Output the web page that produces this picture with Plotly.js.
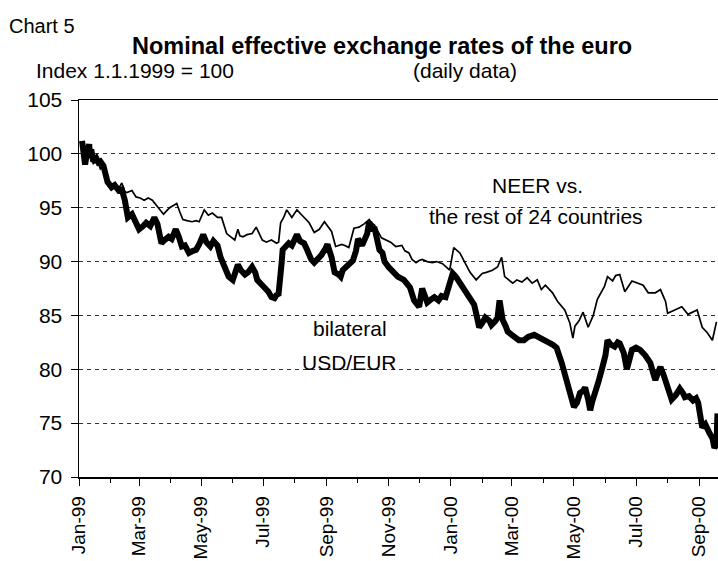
<!DOCTYPE html>
<html>
<head>
<meta charset="utf-8">
<script src="https://cdn.plot.ly/plotly-3.0.1.min.js"></script>
<style>
  html, body { margin: 0; padding: 0; background: #ffffff; }
  #chart { width: 718px; height: 561px; }
</style>
</head>
<body>
<div id="chart"></div>
<script>
// ---- Data (index 1.1.1999 = 100, daily data) ----
var usdDates = [
  "1999-01-04","1999-01-05","1999-01-06","1999-01-07","1999-01-08","1999-01-11","1999-01-12","1999-01-13","1999-01-15","1999-01-18",
  "1999-01-20","1999-01-22","1999-01-25","1999-01-27","1999-01-29","1999-02-02","1999-02-05","1999-02-09","1999-02-12","1999-02-15",
  "1999-02-18","1999-02-22","1999-02-26","1999-03-01","1999-03-05","1999-03-08","1999-03-12","1999-03-16","1999-03-19","1999-03-23",
  "1999-03-26","1999-03-30","1999-04-02","1999-04-06","1999-04-09","1999-04-12","1999-04-15","1999-04-19","1999-04-23","1999-04-26",
  "1999-04-29","1999-05-03","1999-05-06","1999-05-10","1999-05-13","1999-05-17","1999-05-20","1999-05-25","1999-05-28","1999-06-01",
  "1999-06-03","1999-06-06","1999-06-09","1999-06-13","1999-06-16","1999-06-20","1999-06-23","1999-06-25","1999-06-29","1999-07-02",
  "1999-07-06","1999-07-09","1999-07-12","1999-07-14","1999-07-16","1999-07-19","1999-07-20","1999-07-23","1999-07-26","1999-07-29",
  "1999-08-03","1999-08-06","1999-08-10","1999-08-13","1999-08-17","1999-08-20","1999-08-24","1999-08-27","1999-08-31","1999-09-02",
  "1999-09-06","1999-09-09","1999-09-13","1999-09-15","1999-09-17","1999-09-21","1999-09-24","1999-09-27","1999-09-30","1999-10-02",
  "1999-10-06","1999-10-11","1999-10-13","1999-10-15","1999-10-18","1999-10-20","1999-10-23","1999-10-26","1999-10-28","1999-11-01",
  "1999-11-06","1999-11-10","1999-11-16","1999-11-19","1999-11-22","1999-11-26","1999-12-01","1999-12-04","1999-12-07","1999-12-09",
  "1999-12-13","1999-12-16","1999-12-20","1999-12-23","1999-12-27","1999-12-31","2000-01-03","2000-01-06","2000-01-10","2000-01-13",
  "2000-01-15","2000-01-18","2000-01-21","2000-01-24","2000-01-26","2000-01-29","2000-02-01","2000-02-04","2000-02-08","2000-02-10",
  "2000-02-14","2000-02-16","2000-02-18","2000-02-21","2000-02-24","2000-02-26","2000-03-01","2000-03-04","2000-03-08","2000-03-13",
  "2000-03-17","2000-03-23","2000-03-28","2000-04-02","2000-04-06","2000-04-10","2000-04-14","2000-04-19","2000-04-22","2000-04-25",
  "2000-04-28","2000-05-01","2000-05-04","2000-05-07","2000-05-10","2000-05-12","2000-05-15","2000-05-17","2000-05-19","2000-05-22",
  "2000-05-25","2000-05-29","2000-06-01","2000-06-03","2000-06-06","2000-06-10","2000-06-13","2000-06-15","2000-06-19","2000-06-22",
  "2000-06-25","2000-06-27","2000-07-01","2000-07-05","2000-07-10","2000-07-15","2000-07-18","2000-07-20","2000-07-23","2000-07-25",
  "2000-07-28","2000-07-30","2000-08-02","2000-08-05","2000-08-09","2000-08-13","2000-08-16","2000-08-18","2000-08-22","2000-08-26",
  "2000-08-29","2000-08-31","2000-09-04","2000-09-07","2000-09-11","2000-09-14","2000-09-16","2000-09-18","2000-09-19"
];
var usdIndex = [
  101.2, 99.9, 100.5, 99.0, 99.6, 100.9, 99.6, 100.4, 99.3, 99.6,
  99.2, 99.3, 98.9, 97.8, 97.4, 96.9, 97.1, 96.6, 96.7, 95.7,
  94.1, 94.4, 93.6, 93.0, 93.3, 93.6, 93.3, 94.1, 93.5, 91.7,
  92.0, 92.3, 92.1, 93.0, 92.3, 91.4, 91.5, 90.8, 91.0, 91.1,
  91.6, 92.5, 91.8, 91.4, 91.9, 91.5, 90.4, 89.3, 88.6, 88.3,
  88.8, 89.7, 89.2, 88.8, 89.0, 89.5, 89.0, 88.3, 87.9, 87.6,
  87.2, 86.7, 86.6, 86.9, 87.0, 89.9, 91.1, 91.4, 91.7, 91.5,
  92.5, 91.9, 91.7, 91.1, 90.2, 89.9, 90.2, 90.6, 91.2, 91.6,
  90.4, 89.0, 88.8, 88.6, 89.2, 89.5, 89.9, 90.1, 91.0, 92.1,
  91.5, 92.6, 93.7, 92.9, 93.2, 92.4, 91.1, 90.8, 90.0, 89.5,
  88.9, 88.6, 88.3, 88.0, 87.6, 86.4, 85.8, 87.5, 86.8, 86.2,
  86.5, 86.7, 86.4, 86.8, 86.7, 88.0, 88.9, 88.6, 88.0, 87.6,
  87.1, 86.8, 86.4, 86.0, 85.2, 83.9, 84.3, 84.8, 84.5, 84.1,
  84.5, 84.8, 86.4, 84.6, 84.0, 83.5, 83.2, 83.0, 82.7, 82.7,
  83.0, 83.2, 83.0, 82.7, 82.5, 82.3, 82.0, 80.6, 79.6, 78.7,
  77.5, 76.5, 76.9, 77.8, 78.0, 78.3, 77.2, 76.2, 77.0, 77.8,
  78.8, 80.2, 81.3, 82.7, 82.3, 82.1, 82.5, 82.4, 81.5, 80.0,
  81.0, 81.8, 82.0, 81.8, 81.3, 80.6, 79.6, 79.0, 79.8, 80.2,
  79.5, 79.0, 78.3, 77.2, 77.6, 78.2, 77.8, 77.4, 77.5, 77.1,
  77.3, 76.9, 74.6, 74.9, 74.1, 73.6, 72.7, 73.0, 75.9
];
var neerDates = [
  "1999-01-04","1999-01-06","1999-01-08","1999-01-11","1999-01-13","1999-01-15","1999-01-19","1999-01-22","1999-01-25","1999-01-28",
  "1999-02-01","1999-02-04","1999-02-08","1999-02-12","1999-02-15","1999-02-17","1999-02-22","1999-02-26","1999-03-02","1999-03-06",
  "1999-03-10","1999-03-14","1999-03-19","1999-03-25","1999-03-31","1999-04-07","1999-04-10","1999-04-13","1999-04-17","1999-04-22",
  "1999-04-26","1999-04-29","1999-05-04","1999-05-08","1999-05-12","1999-05-17","1999-05-21","1999-05-26","1999-05-30","1999-06-03",
  "1999-06-06","1999-06-08","1999-06-11","1999-06-15","1999-06-20","1999-06-24","1999-06-30","1999-07-04","1999-07-09","1999-07-14",
  "1999-07-16","1999-07-18","1999-07-21","1999-07-24","1999-07-29","1999-08-03","1999-08-08","1999-08-15","1999-08-20","1999-08-25",
  "1999-08-30","1999-09-03","1999-09-06","1999-09-10","1999-09-16","1999-09-19","1999-09-23","1999-09-28","1999-10-03","1999-10-08",
  "1999-10-13","1999-10-15","1999-10-18","1999-10-25","1999-10-29","1999-11-03","1999-11-08","1999-11-14","1999-11-17","1999-11-21",
  "1999-11-24","1999-11-28","1999-12-01","1999-12-04","1999-12-09","1999-12-14","1999-12-18","1999-12-24","1999-12-31","2000-01-04",
  "2000-01-10","2000-01-16","2000-01-20","2000-01-26","2000-02-01","2000-02-05","2000-02-11","2000-02-16","2000-02-20","2000-02-23",
  "2000-03-02","2000-03-06","2000-03-11","2000-03-16","2000-03-21","2000-03-26","2000-03-30","2000-04-03","2000-04-10","2000-04-15",
  "2000-04-22","2000-04-27","2000-04-30","2000-05-02","2000-05-06","2000-05-10","2000-05-15","2000-05-20","2000-05-24","2000-05-31",
  "2000-06-03","2000-06-08","2000-06-11","2000-06-15","2000-06-20","2000-06-27","2000-07-03","2000-07-08","2000-07-13","2000-07-20",
  "2000-07-25","2000-07-30","2000-08-01","2000-08-08","2000-08-15","2000-08-21","2000-08-26","2000-08-30","2000-09-04","2000-09-09",
  "2000-09-14","2000-09-18"
];
var neerIndex = [
  100.8, 100.2, 99.7, 100.5, 99.6, 99.1, 99.4, 98.6, 98.9, 97.4,
  97.0, 96.9, 96.6, 97.3, 96.5, 96.4, 96.6, 96.0, 95.9, 95.7,
  95.9, 95.7, 95.1, 94.4, 95.0, 95.4, 94.6, 93.9, 93.8, 93.7,
  93.8, 93.7, 94.8, 94.3, 94.5, 94.1, 94.1, 92.6, 92.3, 92.0,
  93.0, 92.4, 92.3, 92.5, 92.6, 93.2, 92.0, 91.8, 92.0, 91.7,
  91.8, 93.6, 94.1, 94.8, 94.1, 94.8, 94.3, 93.6, 92.7, 93.0,
  93.7, 93.2, 92.8, 91.4, 91.6, 91.5, 91.3, 93.1, 93.2, 93.5,
  93.9, 93.6, 93.4, 92.2, 92.0, 91.8, 91.4, 91.5, 91.0, 90.8,
  90.2, 89.9, 90.1, 90.2, 90.0, 89.9, 90.0, 89.8, 89.2, 91.3,
  90.8, 89.7, 89.0, 88.3, 88.9, 89.0, 89.2, 89.5, 90.4, 88.6,
  88.0, 88.3, 88.1, 88.5, 88.0, 88.3, 87.4, 87.8, 87.1, 86.3,
  85.5, 84.3, 82.9, 84.0, 84.5, 85.3, 83.9, 85.0, 86.5, 87.7,
  88.6, 88.2, 88.7, 88.8, 87.2, 88.2, 88.0, 87.8, 87.1, 87.1,
  87.4, 86.3, 85.2, 85.5, 85.8, 85.1, 85.3, 85.5, 83.9, 83.4,
  82.7, 84.4
];
var yTicks = [70, 75, 80, 85, 90, 95, 100, 105];
var xRange = ["1999-01-01", "2000-09-19 12:00"];

var FONT = "Liberation Sans, Arial, sans-serif";

var traces = [
  {
    x: neerDates, y: neerIndex, type: "scatter", mode: "lines",
    line: { color: "#000000", width: 1.7 }, hoverinfo: "skip", showlegend: false
  },
  {
    x: usdDates, y: usdIndex, type: "scatter", mode: "lines",
    line: { color: "#000000", width: 6 }, hoverinfo: "skip", showlegend: false
  }
];

var layout = {
  width: 718, height: 561,
  margin: { l: 79, r: 0, t: 100, b: 84, pad: 0 },
  paper_bgcolor: "#ffffff", plot_bgcolor: "#ffffff",
  font: { family: FONT, color: "#000000", size: 20 },
  showlegend: false,
  xaxis: {
    type: "date", range: xRange, tick0: "1999-01-01", dtick: "M2",
    tickformat: "%b-%y", tickangle: -90, ticks: "outside", ticklen: 7, tickwidth: 1,
    tickcolor: "#000000", showline: true, linecolor: "#000000", linewidth: 1.5,
    mirror: true, showgrid: false, zeroline: false, ticklabelstandoff: 3,
    minor: { dtick: "M1", tick0: "1999-01-01", ticks: "outside", ticklen: 4, tickcolor: "#000000", showgrid: false },
    tickfont: { family: FONT, size: 19, color: "#000000" }, fixedrange: true
  },
  yaxis: {
    range: [70, 105], tickvals: yTicks, ticktext: yTicks.map(String),
    ticks: "outside", ticklen: 7, tickwidth: 1, tickcolor: "#000000",
    showline: true, linecolor: "#000000", linewidth: 1.5, mirror: false,
    showgrid: true, gridcolor: "#333333", gridwidth: 1, griddash: "4px,4px",
    zeroline: false, ticklabelstandoff: 4,
    tickfont: { family: FONT, size: 21, color: "#000000" }, fixedrange: true
  },
  shapes: [
    { type: "rect", xref: "paper", yref: "paper", x0: 0.523, x1: 0.917, y0: 0.655, y1: 0.727,
      fillcolor: "#ffffff", line: { width: 0 }, layer: "below" },
    { type: "rect", xref: "paper", yref: "paper", x0: 0.341, x1: 0.505, y0: 0.257, y1: 0.448,
      fillcolor: "#ffffff", line: { width: 0 }, layer: "below" }
  ],
  annotations: [
    { text: "Chart 5", xref: "paper", yref: "paper", x: -0.113, y: 1.195, xanchor: "left", yanchor: "middle",
      showarrow: false, font: { family: FONT, size: 20, color: "#000000" } },
    { text: "<b>Nominal effective exchange rates of the euro</b>", xref: "paper", yref: "paper", x: 0.474, y: 1.143,
      xanchor: "center", yanchor: "middle", showarrow: false, font: { family: FONT, size: 23.5, color: "#000000" } },
    { text: "Index 1.1.1999 = 100", xref: "paper", yref: "paper", x: -0.07, y: 1.078, xanchor: "left", yanchor: "middle",
      showarrow: false, font: { family: FONT, size: 21, color: "#000000" } },
    { text: "(daily data)", xref: "paper", yref: "paper", x: 0.519, y: 1.078, xanchor: "left", yanchor: "middle",
      showarrow: false, font: { family: FONT, size: 21, color: "#000000" } },
    { text: "NEER vs.", xref: "paper", yref: "paper", x: 0.717, y: 0.772, xanchor: "center", yanchor: "middle",
      showarrow: false, font: { family: FONT, size: 21, color: "#000000" } },
    { text: "the rest of 24 countries", xref: "paper", yref: "paper", x: 0.715, y: 0.690, xanchor: "center", yanchor: "middle",
      showarrow: false, font: { family: FONT, size: 21, color: "#000000" } },
    { text: "bilateral", xref: "paper", yref: "paper", x: 0.424, y: 0.393, xanchor: "center", yanchor: "middle",
      showarrow: false, font: { family: FONT, size: 21, color: "#000000" } },
    { text: "USD/EUR", xref: "paper", yref: "paper", x: 0.423, y: 0.305, xanchor: "center", yanchor: "middle",
      showarrow: false, font: { family: FONT, size: 21, color: "#000000" } }
  ]
};

Plotly.newPlot("chart", traces, layout, { staticPlot: true, displayModeBar: false });
</script>
</body>
</html>
